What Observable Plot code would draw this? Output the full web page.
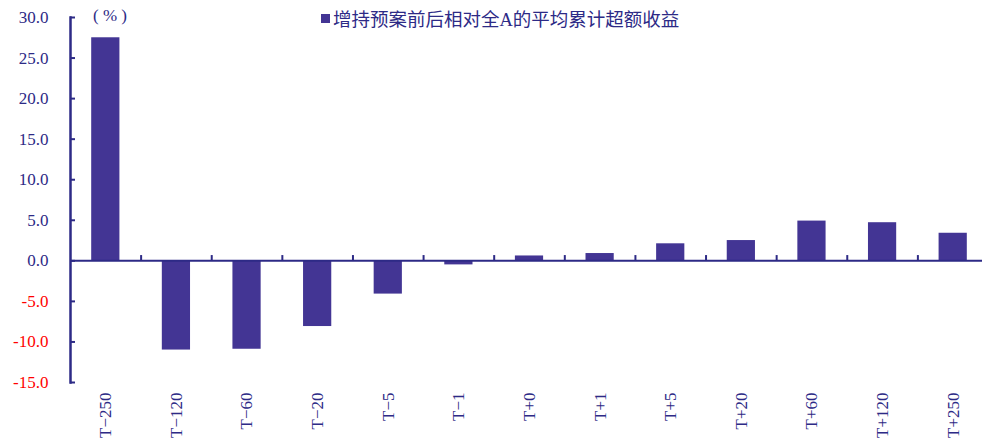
<!DOCTYPE html>
<html>
<head>
<meta charset="utf-8">
<script src="https://cdn.jsdelivr.net/npm/d3@7"></script>
<script src="https://cdn.jsdelivr.net/npm/@observablehq/plot@0.6"></script>
<style>
  html, body { margin: 0; padding: 0; background: #fff; }
  #wrap { position: relative; width: 982px; height: 443px; }
  #chart svg, #chart svg text { font-family: "Liberation Serif", "DejaVu Serif", serif !important; }
  .ov { position: absolute; white-space: nowrap; color: #2d2a86; }
  #unit { left: 93px; top: 6px; font-family: "Liberation Serif", "DejaVu Serif", serif; font-size: 17px; }
  #legend { left: 321px; top: 5px; font-family: "Liberation Serif", "Noto Sans CJK SC", serif; font-size: 18.5px; display: flex; align-items: center; }
  #legend .sw { display: inline-block; width: 9px; height: 9px; background: #433594; margin-right: 3px; }
</style>
</head>
<body>
<div id="wrap">
  <div id="chart"></div>
  <div class="ov" id="unit">( % )</div>
  <div class="ov" id="legend"><span class="sw"></span><span>增持预案前后相对全A的平均累计超额收益</span></div>
</div>
<script>
const categories = ["T−250","T−120","T−60","T−20","T−5","T−1","T+0","T+1","T+5","T+20","T+60","T+120","T+250"];
const values = [27.5, -11.0, -10.9, -8.1, -4.1, -0.5, 0.6, 0.9, 2.1, 2.5, 4.9, 4.7, 3.4];
const yTicks = [-15, -10, -5, 0, 5, 10, 15, 20, 25, 30];

const data = categories.map((c, i) => ({cat: c, v: values[i]}));
const W = 982, H = 443, ML = 70, MT = 17, MB = 61;
const xEnd = 988;
const bw = (xEnd - ML) / categories.length;
const axisColor = "#2d2a86";
const barColor = "#433594";
const serif = "Liberation Serif";

const plot = Plot.plot({
  width: W, height: H,
  marginLeft: ML, marginRight: 0, marginTop: MT, marginBottom: MB,
  style: {fontFamily: serif, background: "#fff", overflow: "hidden"},
  x: {domain: categories, padding: 0, range: [ML, xEnd], round: false, label: null},
  y: {domain: [-15, 30], label: null},
  marks: [
    Plot.barY(data, {x: "cat", y: "v", fill: barColor, insetLeft: 21.2, insetRight: 21.2}),
    Plot.ruleY([0], {stroke: axisColor, strokeWidth: 2}),
    Plot.ruleX(categories.slice(1), {x: d => d, y1: 0, y2: 0.65, dx: -bw / 2, stroke: axisColor, strokeWidth: 2}),
    Plot.frame({anchor: "left", stroke: axisColor, strokeWidth: 2.5}),
    Plot.axisY({ticks: yTicks, tickSize: -5, tickFormat: () => "", stroke: axisColor, strokeWidth: 2}),
    Plot.axisY({ticks: yTicks.filter(d => d >= 0), tickSize: 0, tickPadding: 22, tickFormat: d => d.toFixed(1), fill: axisColor, fontSize: 17, fontFamily: serif}),
    Plot.axisY({ticks: yTicks.filter(d => d < 0), tickSize: 0, tickPadding: 22, tickFormat: d => d.toFixed(1), fill: "#ff0000", fontSize: 17, fontFamily: serif}),
    Plot.axisX({tickSize: 0, tickRotate: -90, tickPadding: 10, fill: axisColor, fontSize: 17, fontFamily: serif})
  ]
});
document.getElementById("chart").appendChild(plot);
</script>
</body>
</html>
